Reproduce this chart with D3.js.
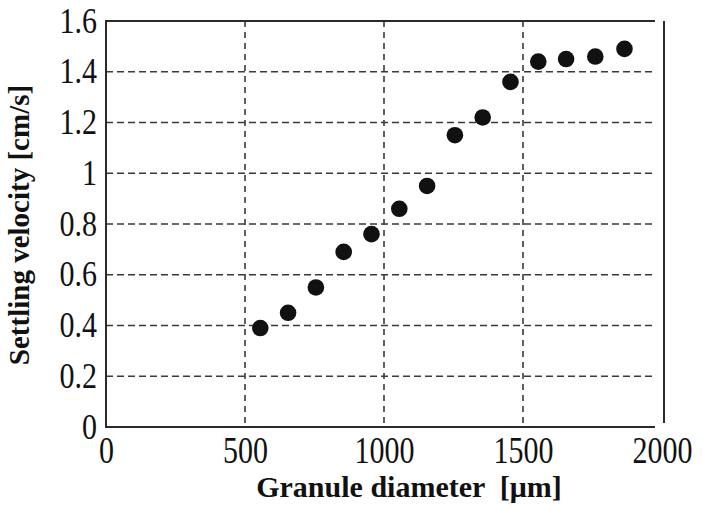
<!DOCTYPE html>
<html>
<head>
<meta charset="utf-8">
<script src="https://cdn.jsdelivr.net/npm/d3@7"></script>
<style>
  body { margin: 0; background: #fff; }
  svg { display: block; }
</style>
</head>
<body>
<svg id="chart" width="702" height="509"></svg>
<script>
// data
var diameters = [555, 655, 755, 855, 955, 1055, 1155, 1255, 1355, 1455, 1555, 1655, 1760, 1865];
var velocities = [0.39, 0.45, 0.55, 0.69, 0.76, 0.86, 0.95, 1.15, 1.22, 1.36, 1.44, 1.45, 1.46, 1.49];
var xTicks = [0, 500, 1000, 1500, 2000];
var yTicks = [0, 0.2, 0.4, 0.6, 0.8, 1, 1.2, 1.4, 1.6];
var xTitle = "Granule diameter  [\u03bcm]";
var yTitle = "Settling velocity [cm/s]";

var width = 702, height = 509;
var plotLeft = 106, plotTop = 21, plotRight = 662, plotBottom = 427;
var frame_color = "#2a2a2a";
var grid_color = "#3a3a3a";
var dot_color = "#111";
var serif = "'Liberation Serif', 'Times New Roman', serif";

var svg = d3.select("#chart");

var x = d3.scaleLinear().domain([0, 2000]).range([plotLeft, plotRight]);
var y = d3.scaleLinear().domain([0, 1.6]).range([plotBottom, plotTop]);
var gridEnd = x(2000) - 7;

// gridlines -----------------------------------
svg.append("g").selectAll("line")
  .data(yTicks.filter(d => d > 0 && d < 1.6))
  .join("line")
    .attr("x1", plotLeft).attr("x2", gridEnd)
    .attr("y1", d => y(d)).attr("y2", d => y(d))
    .attr("stroke", grid_color)
    .attr("stroke-width", 1.6)
    .attr("stroke-dasharray", "7,4");

svg.append("g").selectAll("line")
  .data(xTicks.filter(d => d > 0 && d < 2000))
  .join("line")
    .attr("x1", d => x(d)).attr("x2", d => x(d))
    .attr("y1", plotTop).attr("y2", plotBottom)
    .attr("stroke", grid_color)
    .attr("stroke-width", 1.6)
    .attr("stroke-dasharray", "6,5");

// frame (right side is detached in the scan)
svg.append("path")
  .attr("d", `M${gridEnd},${plotTop}H${plotLeft}V${plotBottom}H${gridEnd}`)
  .attr("fill", "none")
  .attr("stroke", frame_color)
  .attr("stroke-width", 2);
svg.append("line")
  .attr("x1", x(2000) + 2).attr("x2", x(2000) + 2)
  .attr("y1", plotTop).attr("y2", plotBottom - 4)
  .attr("stroke", frame_color)
  .attr("stroke-width", 2);

// axes ----------------------------------------
var yAxis = svg.append("g")
  .attr("transform", `translate(${plotLeft},0)`)
  .call(d3.axisLeft(y).tickValues(yTicks).tickSize(0).tickPadding(9).tickFormat(d => String(d)));
yAxis.select(".domain").remove();
yAxis.selectAll("text")
  .attr("font-family", serif)
  .attr("font-size", 30)
  .attr("fill", "#111")
  .attr("transform", "scale(1,1.17)");

var xAxis = svg.append("g")
  .attr("transform", `translate(0,${plotBottom})`)
  .call(d3.axisBottom(x).tickValues(xTicks).tickSize(0).tickPadding(7).tickFormat(d => String(d)));
xAxis.select(".domain").remove();
xAxis.selectAll("text")
  .attr("font-family", serif)
  .attr("font-size", 30)
  .attr("fill", "#111")
  .attr("transform", "scale(1,1.28)");

// titles
svg.append("text")
  .attr("x", 409).attr("y", 497)
  .attr("text-anchor", "middle")
  .attr("font-family", serif)
  .attr("font-weight", "bold")
  .attr("font-size", 30)
  .style("white-space", "pre")
  .attr("fill", "#111")
  .text(xTitle);

svg.append("text")
  .attr("transform", "translate(29,225) rotate(-90)")
  .attr("text-anchor", "middle")
  .attr("font-family", serif)
  .attr("font-weight", "bold")
  .attr("font-size", 29)
  .attr("fill", "#111")
  .text(yTitle);

// points --------------------------------------
svg.append("g").selectAll("circle")
  .data(diameters.map((d, i) => ({d: d, v: velocities[i]})))
  .join("circle")
    .attr("cx", p => x(p.d))
    .attr("cy", p => y(p.v))
    .attr("r", 8.3)
    .attr("fill", dot_color);
</script>
</body>
</html>
